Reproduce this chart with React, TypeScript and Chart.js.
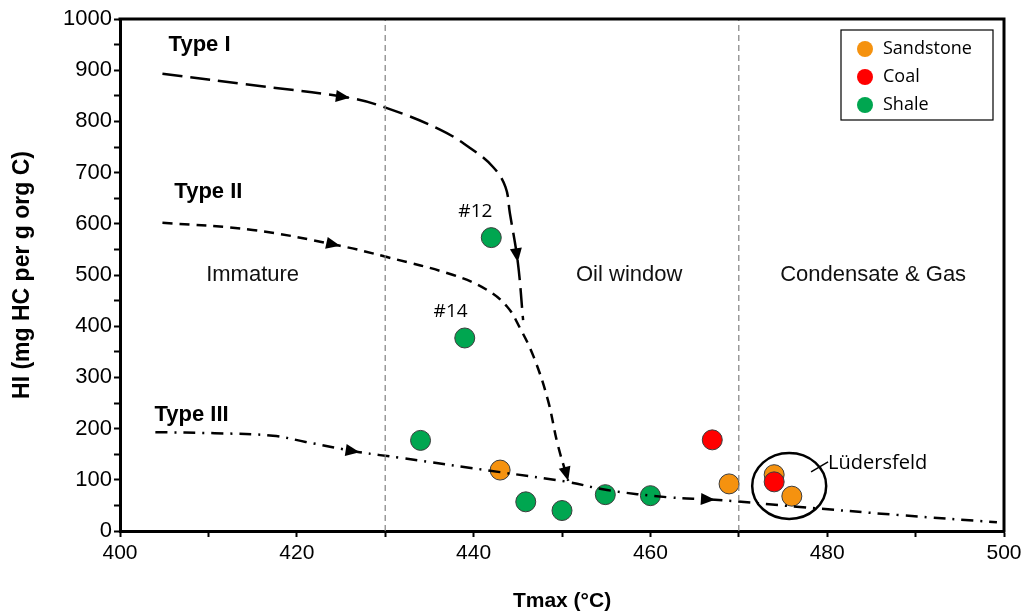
import React, { useEffect, useRef } from "react";
import { Chart, registerables } from "chart.js";

Chart.register(...registerables);

// Axis ranges
const tmaxMin = 400;
const tmaxMax = 500;
const hiMin = 0;
const hiMax = 1000;

// Samples (Tmax °C, HI mg HC/g org C)
const sandstoneTmax = [443.0, 468.9, 474.0, 476.0];
const sandstoneHI = [119, 92, 110, 68];
const coalTmax = [467.0, 474.0];
const coalHI = [178, 96];
const shaleTmax = [442.0, 439.0, 434.0, 445.9, 450.0, 454.9, 460.0];
const shaleHI = [573, 377, 177, 57, 40, 71, 69];

// Kerogen maturation pathways
const typeITmax = [404.8, 415.8, 426.0, 430.2, 436.2, 439.6, 442.2, 443.6, 444.1, 445.0, 445.6];
const typeIHI = [893, 869, 846, 826, 784, 748, 711, 672, 621, 525, 412];
const typeIITmax = [404.8, 415.0, 424.9, 430.2, 437.7, 441.5, 443.8, 445.2, 446.8, 448.4, 449.5, 450.7];
const typeIIHI = [602, 588, 557, 535, 500, 471, 438, 398, 340, 256, 170, 98];
const typeIIITmax = [404.0, 410.7, 417.3, 421.0, 427.1, 431.7, 443.0, 450.6, 455.1, 461.9, 467.3, 476.9, 488.2, 499.2];
const typeIIIHI = [193, 191, 186, 174, 154, 143, 115, 96, 80, 66, 61, 47, 31, 17];

// Direction arrows along the pathways (tip and a point behind it)
const arrowTipTmax = [426.0, 445.0, 424.9, 450.7, 427.1, 467.3];
const arrowTipHI = [846, 525, 557, 98, 154, 61];
const arrowTailTmax = [422.0, 444.6, 421.5, 449.9, 424.5, 464.5];
const arrowTailHI = [855, 575, 570, 150, 161, 64];

// Maturity zone boundaries
const zoneBoundaryTmax = [430, 470];
const zoneNames = ["Immature", "Oil window", "Condensate & Gas"];
const zoneLabelTmax = [415.0, 457.6, 485.2];
const zoneLabelHI = [500, 500, 500];

// Pathway labels
const typeNames = ["Type I", "Type II", "Type III"];
const typeLabelTmax = [409.0, 410.0, 408.1];
const typeLabelHI = [949, 662, 227];

// Sample labels
const sampleNames = ["#12", "#14"];
const sampleLabelTmax = [440.2, 437.4];
const sampleLabelHI = [623, 428];

// Lüdersfeld group
const groupName = "Lüdersfeld";
const groupCenterTmax = 475.7;
const groupCenterHI = 88;
const groupLabelTmax = 480.1;
const groupLabelHI = 133;

const xTickLabels = [400, 420, 440, 460, 480, 500];
const yTickLabels = [0, 100, 200, 300, 400, 500, 600, 700, 800, 900, 1000];

const SANDSTONE = "#F5920F";
const COAL = "#FF0000";
const SHALE = "#00A650";

const zip = (xs: number[], ys: number[]) => xs.map((x, i) => ({ x, y: ys[i] }));

const pathStyle = (dash: number[]) => ({
  showLine: true,
  borderColor: "#000",
  borderWidth: 2.5,
  borderDash: dash,
  pointRadius: 0,
  pointHoverRadius: 0,
  tension: 0.4,
  fill: false,
  order: 0,
});

const sampleStyle = (color: string, order: number) => ({
  showLine: false,
  backgroundColor: color,
  borderColor: "#3c3c3c",
  borderWidth: 1,
  pointRadius: 10,
  pointHoverRadius: 10,
  order,
  isSample: true,
});

const overlayPlugin = {
  id: "overlay",
  afterDatasetsDraw(chart: any) {
    const { ctx, scales } = chart;
    const px = (v: number) => scales.x.getPixelForValue(v);
    const py = (v: number) => scales.y.getPixelForValue(v);
    ctx.save();

    // arrowheads
    ctx.fillStyle = "#000";
    for (let i = 0; i < arrowTipTmax.length; i++) {
      const tx = px(arrowTipTmax[i]);
      const ty = py(arrowTipHI[i]);
      const bx = px(arrowTailTmax[i]);
      const by = py(arrowTailHI[i]);
      const ang = Math.atan2(ty - by, tx - bx);
      const L = 14;
      const W = 6;
      const c = Math.cos(ang);
      const s = Math.sin(ang);
      ctx.beginPath();
      ctx.moveTo(tx, ty);
      ctx.lineTo(tx - L * c + W * s, ty - L * s - W * c);
      ctx.lineTo(tx - L * c - W * s, ty - L * s + W * c);
      ctx.closePath();
      ctx.fill();
    }

    // zone labels
    ctx.fillStyle = "#111";
    ctx.textAlign = "center";
    ctx.textBaseline = "middle";
    ctx.font = "22px 'Liberation Sans', Arial, sans-serif";
    zoneNames.forEach((t, i) => ctx.fillText(t, px(zoneLabelTmax[i]), py(zoneLabelHI[i])));

    // pathway labels
    ctx.font = "bold 22px 'Liberation Sans', Arial, sans-serif";
    ctx.fillStyle = "#000";
    typeNames.forEach((t, i) => ctx.fillText(t, px(typeLabelTmax[i]), py(typeLabelHI[i])));

    // sample labels
    ctx.font = "19px 'Open Sans', sans-serif";
    sampleNames.forEach((t, i) => ctx.fillText(t, px(sampleLabelTmax[i]), py(sampleLabelHI[i])));

    // Lüdersfeld ring and label
    const cx = px(groupCenterTmax);
    const cy = py(groupCenterHI);
    ctx.strokeStyle = "#000";
    ctx.lineWidth = 2.5;
    ctx.beginPath();
    ctx.ellipse(cx, cy, 37, 33, 0, 0, Math.PI * 2);
    ctx.stroke();
    const lx = px(groupLabelTmax);
    const ly = py(groupLabelHI);
    ctx.lineWidth = 1.5;
    ctx.beginPath();
    ctx.moveTo(lx - 17, ly + 9);
    ctx.lineTo(lx, ly - 1);
    ctx.stroke();
    ctx.textAlign = "left";
    ctx.font = "20px 'Open Sans', sans-serif";
    ctx.fillText(groupName, lx, ly);

    ctx.restore();
  },
  afterDraw(chart: any) {
    const { ctx, chartArea: a } = chart;
    ctx.save();
    // top and right frame
    ctx.strokeStyle = "#000";
    ctx.lineWidth = 3;
    ctx.beginPath();
    ctx.moveTo(a.left - 1.5, a.top);
    ctx.lineTo(a.right, a.top);
    ctx.lineTo(a.right, a.bottom + 1.5);
    ctx.stroke();

    // legend box
    const bx = a.right - 163;
    const by = a.top + 11;
    const bw = 152;
    const bh = 90;
    ctx.fillStyle = "#fff";
    ctx.fillRect(bx, by, bw, bh);
    ctx.lineWidth = 1.2;
    ctx.strokeRect(bx, by, bw, bh);
    const samples = chart.data.datasets.filter((d: any) => d.isSample);
    ctx.font = "18px 'Open Sans', sans-serif";
    ctx.textAlign = "left";
    ctx.textBaseline = "middle";
    samples.forEach((d: any, i: number) => {
      const rowY = by + 19 + i * 28;
      ctx.fillStyle = d.backgroundColor;
      ctx.beginPath();
      ctx.arc(bx + 24, rowY, 8, 0, Math.PI * 2);
      ctx.fill();
      ctx.fillStyle = "#000";
      ctx.fillText(d.label, bx + 42, rowY);
    });
    ctx.restore();
  },
};

export default function App() {
  const canvasRef = useRef<HTMLCanvasElement | null>(null);

  useEffect(() => {
    const canvas = canvasRef.current;
    if (!canvas) return;

    const boundaryDatasets = zoneBoundaryTmax.map((t) => ({
      label: `boundary ${t}`,
      data: [
        { x: t, y: hiMin },
        { x: t, y: hiMax },
      ],
      showLine: true,
      borderColor: "#808080",
      borderWidth: 1.2,
      borderDash: [6, 4],
      pointRadius: 0,
      pointHoverRadius: 0,
      order: 0,
    }));

    const chart = new Chart(canvas, {
      type: "scatter",
      data: {
        datasets: [
          ...boundaryDatasets,
          { label: "Type I", data: zip(typeITmax, typeIHI), ...pathStyle([20, 8]) },
          { label: "Type II", data: zip(typeIITmax, typeIIHI), ...pathStyle([10, 7]) },
          { label: "Type III", data: zip(typeIIITmax, typeIIIHI), ...pathStyle([12, 7, 2, 7]) },
          { label: "Sandstone", data: zip(sandstoneTmax, sandstoneHI), ...sampleStyle(SANDSTONE, 2) },
          { label: "Coal", data: zip(coalTmax, coalHI), ...sampleStyle(COAL, 1) },
          { label: "Shale", data: zip(shaleTmax, shaleHI), ...sampleStyle(SHALE, 3) },
        ] as any,
      },
      options: {
        responsive: true,
        maintainAspectRatio: false,
        animation: false,
        layout: { padding: { left: 0, right: 23, top: 19, bottom: 0 } },
        plugins: {
          legend: { display: false },
          tooltip: { enabled: false },
        },
        scales: {
          x: {
            type: "linear",
            min: tmaxMin,
            max: tmaxMax,
            afterFit: (s: any) => {
              s.height = 83;
            },
            ticks: {
              stepSize: 10,
              autoSkip: false,
              maxRotation: 0,
              padding: 4,
              color: "#000",
              font: { family: "'Liberation Sans', Arial, sans-serif", size: 21 },
              callback: (v: any) => (xTickLabels.includes(Number(v)) ? String(v) : ""),
            },
            grid: {
              drawOnChartArea: false,
              drawTicks: true,
              tickLength: 6,
              tickWidth: 2,
              tickColor: "#000",
            },
            border: { display: true, color: "#000", width: 3 },
            title: {
              display: true,
              text: "Tmax (°C)",
              color: "#000",
              font: { family: "'Liberation Sans', Arial, sans-serif", size: 21, weight: "bold" },
              padding: { top: 0, bottom: 0 },
            },
          },
          y: {
            type: "linear",
            min: hiMin,
            max: hiMax,
            afterFit: (s: any) => {
              s.width = 120;
            },
            ticks: {
              stepSize: 50,
              autoSkip: false,
              padding: 2,
              color: "#000",
              font: { family: "'Liberation Sans', Arial, sans-serif", size: 22 },
              callback: (v: any) => (yTickLabels.includes(Number(v)) ? String(v) : ""),
            },
            grid: {
              drawOnChartArea: false,
              drawTicks: true,
              tickLength: 6,
              tickWidth: 2,
              tickColor: "#000",
            },
            border: { display: true, color: "#000", width: 3 },
            title: {
              display: true,
              text: "HI (mg HC per g org C)",
              color: "#000",
              font: { family: "'Liberation Sans', Arial, sans-serif", size: 23, weight: "bold" },
              padding: { top: 9, bottom: 0 },
            },
          },
        },
      },
      plugins: [overlayPlugin],
    });

    return () => chart.destroy();
  }, []);

  return (
    <div
      style={{
        position: "fixed",
        left: 0,
        top: 0,
        width: 1027,
        height: 614,
        background: "#fff",
      }}
    >
      <canvas ref={canvasRef} />
    </div>
  );
}
